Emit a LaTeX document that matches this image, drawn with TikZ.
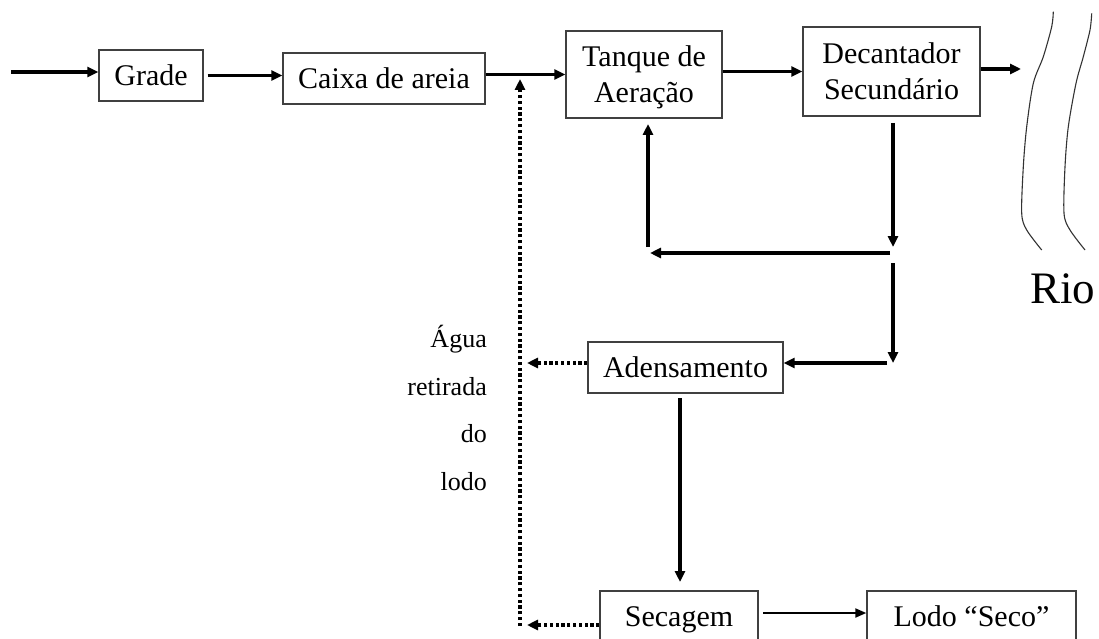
\documentclass[tikz,border=0pt]{standalone}
\usepackage{fontspec}
\setmainfont{Liberation Serif}
\usetikzlibrary{arrows.meta}
\begin{document}
\begin{tikzpicture}[x=1pt,y=-1pt,
 box/.style={draw=black!75,line width=1.4pt,inner sep=0pt,align=center,text depth=0pt,font=\fontsize{30}{36}\selectfont},
 flow/.style={line width=3.2pt,-{Triangle[length=11pt,width=10pt]}},
 thinflow/.style={line width=2pt,-{Triangle[length=11pt,width=9pt]}},
 dots/.style={line width=3.4pt,dash pattern=on 3.2pt off 2.6pt,-{Triangle[length=11pt,width=10pt]}},
 lbl/.style={inner sep=0pt,anchor=base east,font=\fontsize{26}{30}\selectfont},
 river/.style={draw=black!80,line width=1.1pt}]
\useasboundingbox (0,0) rectangle (1099,639);
\fill[white] (0,0) rectangle (1099,639);
\clip (0,0) rectangle (1099,639);
% boxes
\node[box,minimum width=104pt,minimum height=51pt] (grade) at (151,75.5) {Grade};
\node[box,minimum width=202pt,minimum height=51pt] (caixa) at (384,78.5) {Caixa de areia};
\node[box,minimum width=156pt,minimum height=87pt] (tanque) at (644,74.5) {Tanque de\\Aeração};
\node[box,minimum width=177pt,minimum height=89pt] (dec) at (891.5,71.5) {Decantador\\Secundário};
\node[box,minimum width=195pt,minimum height=51pt] (aden) at (685.5,367.5) {Adensamento};
\node[box,minimum width=158pt,minimum height=51pt] (sec) at (679,616.5) {Secagem};
\node[box,minimum width=209pt,minimum height=51pt] (lodo) at (971.5,616.5) {Lodo “Seco”};
% labels
\node[lbl] (l1) at (487,347) {Água};
\node[lbl] (l2) at (487,395) {retirada};
\node[lbl] (l3) at (487,442) {do};
\node[lbl] (l4) at (487,490) {lodo};
\node[inner sep=0pt,anchor=base west,font=\fontsize{45}{50}\selectfont] (rio) at (1030,303) {Rio};
% river
\draw[river] plot[smooth] coordinates {(1053.3,11.7) (1051.7,26.7) (1043.3,56.7) (1033.3,83.3) (1026.7,126.7) (1023.3,166.7) (1021.7,213.3) (1026.7,230) (1041.7,250)};
\draw[river] plot[smooth] coordinates {(1091.7,13.3) (1090,30) (1083.3,56.7) (1076,83.3) (1068.3,126.7) (1065,166.7) (1064,213.3) (1070,230) (1085,250)};
% coordinates
\coordinate (in) at (11,72);
\coordinate (riv) at (1021,69);
\coordinate (d1) at (893,123);
\coordinate (d2) at (893,247);
\coordinate (h1) at (890,253);
\coordinate (h2) at (650,253);
\coordinate (u1) at (648,247);
\coordinate (u2) at (648,124);
\coordinate (d3) at (893,263);
\coordinate (d4) at (893,363);
\coordinate (h3) at (887,363);
\coordinate (w1) at (527,363);
\coordinate (v0) at (520,626);
\coordinate (v1) at (520,79);
\coordinate (w2) at (527,625);
\coordinate (a1) at (680,398);
\coordinate (a2) at (680,582);
\coordinate (s1) at (763,613);
% connectors
\draw[flow] (in) -- (in -| grade.west);
\draw[flow] ([xshift=4pt]grade.east) -- (grade.east -| caixa.west);
\draw[flow] (caixa.east |- tanque.west) -- (tanque.west);
\draw[flow] (tanque.east |- dec.west) -- (dec.west);
\draw[flow] (dec.east |- riv) -- (riv);
\draw[flow] (d1) -- (d2);
\draw[flow] (h1) -- (h2);
\draw[flow] (u1) -- (u2);
\draw[flow] (d3) -- (d4);
\draw[flow] (h3) -- (h3 -| aden.east);
\draw[flow] (a1) -- (a2);
\draw[thinflow] (s1) -- (s1 -| lodo.west);
\draw[dots] (aden.west |- w1) -- (w1);
\draw[dots] (v0) -- (v1);
\draw[dots] (sec.west |- w2) -- (w2);
\end{tikzpicture}
\end{document}
